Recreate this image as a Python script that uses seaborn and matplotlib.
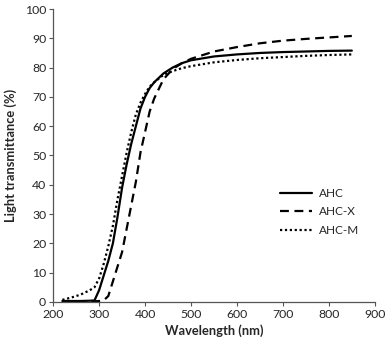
import pandas as pd
import matplotlib
matplotlib.use("Agg")
import matplotlib.pyplot as plt
import seaborn as sns

wavelength = [220, 240, 260, 280, 290, 300, 310, 320, 330, 340, 350, 360, 370, 380,
              390, 400, 410, 420, 440, 460, 480, 500, 550, 600, 650, 700, 750, 800, 850]
ahc = [0.3, 0.3, 0.3, 0.4, 0.5, 4, 9, 14, 20, 29, 39, 47, 54, 60,
       66, 70, 73, 75, 78, 80, 81.5, 82.5, 83.8, 84.5, 85, 85.3, 85.5, 85.7, 85.8]
ahc_x = [0, 0, 0, 0.2, 0.2, 0.3, 0.5, 2, 7, 12, 17, 25, 33, 41,
         51, 58, 65, 69.5, 76, 79.5, 81.5, 83, 85.5, 87, 88.3, 89.2, 89.8, 90.3, 90.8]
ahc_m = [0.7, 1.5, 2.5, 4, 5, 8, 13, 19, 26, 35, 43, 51, 58, 64,
         68, 71, 73.5, 75, 77.5, 78.8, 79.8, 80.5, 81.8, 82.6, 83.2, 83.6, 84, 84.3, 84.5]
samples = ["AHC", "AHC-X", "AHC-M"]

df = pd.DataFrame({
    "wavelength": wavelength * 3,
    "T": ahc + ahc_x + ahc_m,
    "sample": [s for s in samples for _ in wavelength],
})

sns.set_style("ticks")
plt.rcParams["font.family"] = ["Lato", "DejaVu Sans"]

fig = plt.figure(figsize=(3.88, 3.47), dpi=100)
ax = fig.add_axes([0.137, 0.130, 0.829, 0.844])

sns.lineplot(data=df, x="wavelength", y="T", style="sample", style_order=samples,
             dashes={"AHC": "", "AHC-X": (4, 2.5), "AHC-M": (1, 1.2)},
             color="black", linewidth=1.6, ax=ax)

ax.set_xlim(200, 900)
ax.set_ylim(0, 100)
ax.set_xticks(range(200, 901, 100))
ax.set_yticks(range(0, 101, 10))
ax.tick_params(labelsize=8.8, length=3, width=0.8, color="#555555", pad=2)
for side in ["left", "bottom"]:
    ax.spines[side].set_color("#555555")
    ax.spines[side].set_linewidth(0.9)
sns.despine(ax=ax)

ax.set_xlabel("Wavelength (nm)", fontsize=9.3, fontweight="bold", labelpad=3)
ax.set_ylabel("Light transmittance (%)", fontsize=9.3, fontweight="bold", labelpad=6)

ax.legend(loc="center left", bbox_to_anchor=(0.705, 0.307), frameon=False,
          fontsize=8.5, handlelength=2.7, handletextpad=0.6, labelspacing=0.65,
          borderpad=0, borderaxespad=0)

fig.savefig("out.png", dpi=100)
